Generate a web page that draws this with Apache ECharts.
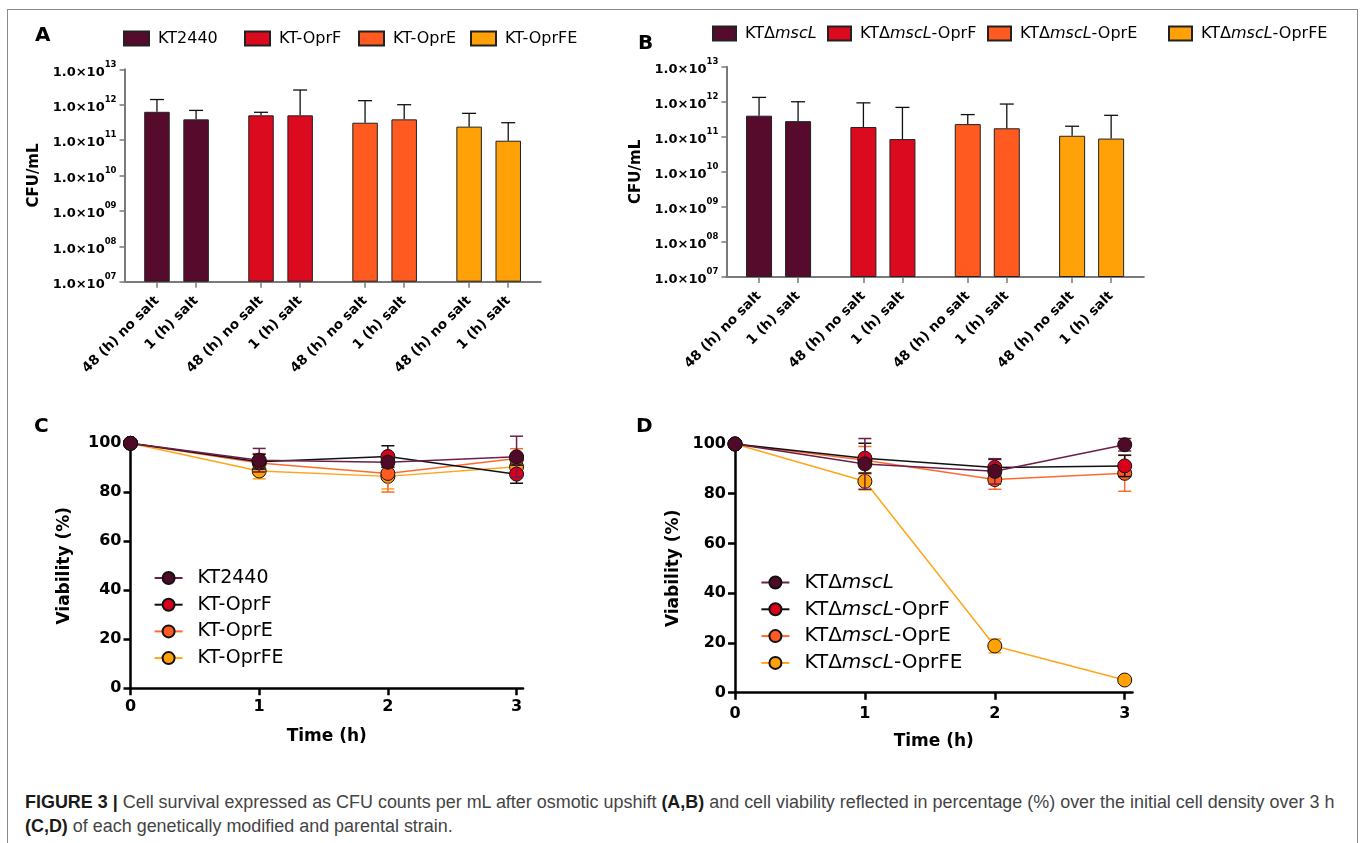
<!DOCTYPE html>
<html>
<head>
<meta charset="utf-8">
<title>Figure 3</title>
<script src="https://cdn.jsdelivr.net/npm/echarts@6.0.0/dist/echarts.min.js"></script>
<style>
  body { margin: 0; background: #fff; }
  #page { position: relative; width: 1360px; height: 843px; overflow: hidden; background: #fff; }
  #frame { position: absolute; left: 7px; top: 9px; width: 1349px; height: 900px; border: 1px solid #8a8a8a; }
  .chart { position: absolute; }
  #caption { position: absolute; left: 25px; top: 790px; font-family: "Liberation Sans", Arial, sans-serif;
             font-size: 15px; line-height: 24px; color: #444; white-space: nowrap; }
  #caption b { color: #1a1a1a; }
</style>
</head>
<body>
<div id="page">
  <div id="frame"></div>
  <div id="cfuA" class="chart" style="left:0;top:0;width:620px;height:400px"></div>
  <div id="cfuB" class="chart" style="left:620px;top:0;width:740px;height:400px"></div>
  <div id="viabC" class="chart" style="left:0;top:400px;width:620px;height:380px"></div>
  <div id="viabD" class="chart" style="left:620px;top:400px;width:740px;height:380px"></div>
  <div id="caption"><span id="capLine1"><b>FIGURE 3 |</b> Cell survival expressed as CFU counts per mL after osmotic upshift <b>(A,B)</b> and cell viability reflected in percentage (%) over the initial cell density over 3 h</span><br><b>(C,D)</b> of each genetically modified and parental strain.</div>
</div>

<script>
// ---------------- data ----------------
const strainsA = ['KT2440', 'KT-OprF', 'KT-OprE', 'KT-OprFE'];
const strainsB = ['KTΔmscL', 'KTΔmscL-OprF', 'KTΔmscL-OprE', 'KTΔmscL-OprFE'];
const conditions = ['48 (h) no salt', '1 (h) salt'];

// CFU/mL per strain: [48 h no salt, 1 h salt]
const cfuA    = [[6.3e11, 3.85e11], [5.0e11, 5.0e11], [3.1e11, 3.85e11], [2.4e11, 9.6e10]];
const cfuTopA = [[1.4e12, 6.9e11],  [6.1e11, 2.6e12], [1.3e12, 1.0e12],  [5.7e11, 3.1e11]];
const cfuB    = [[4.0e11, 2.8e11],  [1.9e11, 8.6e10], [2.3e11, 1.75e11], [1.07e11, 8.9e10]];
const cfuTopB = [[1.33e12, 1.0e12], [9.3e11, 6.9e11], [4.3e11, 8.6e11],  [2.0e11, 4.1e11]];

// viability (%) over time
const hours = [0, 1, 2, 3];
const viabC    = [[100, 93.1, 92.3, 94.5], [100, 92.5, 94.6, 87.4], [100, 92.0, 87.7, 93.8], [100, 88.7, 86.5, 90.4]];
const viabCErr = [[0, 4.8, 2.0, 8.4],      [0, 3.0, 4.4, 3.7],      [0, 3.8, 7.6, 4.0],      [0, 3.2, 5.1, 2.0]];
const viabD    = [[100, 92.0, 89.0, 99.7], [100, 94.3, 90.6, 91.2], [100, 93.5, 85.7, 88.2], [100, 85.0, 18.8, 5.1]];
const viabDErr = [[0, 10.2, 5.1, 2.5],     [0, 6.0, 3.2, 4.3],      [0, 5.5, 3.9, 7.2],      [0, 3.5, 2.8, 1.0]];

// ---------------- styles ----------------
const FONT = 'DejaVu Sans';
const barColors    = ['#560b2d', '#db0a1e', '#ff5b21', '#ffa107'];
const markerColors = ['#4f0a28', '#d9001b', '#ff5b21', '#ffa107'];
const lineColors   = ['#6b1f4a', '#111111', '#ff6a2e', '#ffa51a'];

// italic gene name in the ΔmscL labels
const italicName = n => n.replace('mscL', '{i|mscL}');

function drawCfu(id, strains, values, tops, lay) {
  const chart = echarts.init(document.getElementById(id));
  // bar centre: group middle +- half the pair spacing
  const xPos = (g, i) => g + 0.5 + (i - 0.5) * lay.pair;
  const tickVals = [];
  const tickText = {};
  strains.forEach((s, g) => conditions.forEach((c, i) => {
    const x = xPos(g, i);
    tickVals.push(x);
    tickText[x.toFixed(4)] = c;
  }));

  const series = strains.map((s, g) => ({
    name: s,
    type: 'bar',
    barWidth: lay.barWidth,
    barGap: '-100%',
    clip: true,
    itemStyle: { color: barColors[g], borderColor: '#222', borderWidth: 1 },
    data: values[g].map((v, i) => [xPos(g, i), v])
  }));
  // upper error bars
  series.push({
    type: 'custom',
    z: 5,
    silent: true,
    data: strains.flatMap((s, g) => values[g].map((v, i) => [xPos(g, i), v, tops[g][i]])),
    renderItem: (params, api) => {
      const p0 = api.coord([api.value(0), api.value(1)]);
      const p1 = api.coord([api.value(0), api.value(2)]);
      const w = lay.cap / 2;
      const st = { stroke: '#111', lineWidth: 1.3 };
      return {
        type: 'group',
        children: [
          { type: 'line', shape: { x1: p0[0], y1: p0[1], x2: p1[0], y2: p1[1] }, style: st },
          { type: 'line', shape: { x1: p1[0] - w, y1: p1[1], x2: p1[0] + w, y2: p1[1] }, style: st }
        ]
      };
    }
  });

  const legendText = { fontSize: 16, fontFamily: FONT, color: '#000', padding: [0, 0, 0, 4],
                       rich: { i: { fontSize: 16, fontFamily: FONT, fontStyle: 'italic', color: '#000' } } };

  chart.setOption({
    animation: false,
    textStyle: { fontFamily: FONT },
    graphic: [{ type: 'text', left: lay.letter[0], top: lay.letter[1],
                style: { text: lay.letterText, fontSize: 20, fontWeight: 'bold', fontFamily: FONT, fill: '#000' } }],
    legend: strains.map((s, g) => ({
      data: [s],
      left: lay.legendLeft[g],
      top: lay.legendTop,
      padding: 0,
      icon: 'rect',
      itemWidth: lay.legendIcon,
      itemHeight: 14,
      selectedMode: false,
      formatter: italicName,
      textStyle: legendText
    })),
    grid: { left: lay.grid[0], top: lay.grid[1], width: lay.grid[2], height: lay.grid[3], outerBoundsMode: 'none' },
    xAxis: {
      type: 'value',
      min: 0,
      max: strains.length,
      splitLine: { show: false },
      axisLine: { show: true, onZero: false, lineStyle: { color: '#7a7a7a', width: 2 } },
      axisTick: { show: true, customValues: tickVals, length: 6, lineStyle: { color: '#7a7a7a', width: 1.5 } },
      axisLabel: {
        customValues: tickVals,
        rotate: 45,
        margin: 17,
        fontSize: 13.5,
        fontWeight: 'bold',
        fontFamily: FONT,
        color: '#000',
        formatter: v => tickText[Number(v).toFixed(4)] || ''
      }
    },
    yAxis: {
      type: 'log',
      logBase: 10,
      min: 1e7,
      max: 1e13,
      startValue: 1e7,
      splitLine: { show: false },
      minorTick: { show: false },
      axisLine: { show: true, lineStyle: { color: '#7a7a7a', width: 2 } },
      axisTick: { show: true, length: 5, lineStyle: { color: '#7a7a7a', width: 1.5 } },
      axisLabel: {
        margin: 8,
        formatter: v => {
          const e = Math.round(Math.log10(v));
          return '{m|1.0×10}{e|' + String(e).padStart(2, '0') + '}';
        },
        rich: {
          m: { fontSize: 13, fontWeight: 'bold', fontFamily: FONT, color: '#000', lineHeight: 19, verticalAlign: 'bottom' },
          e: { fontSize: 8.5, fontWeight: 'bold', fontFamily: FONT, color: '#000', lineHeight: 9, verticalAlign: 'top' }
        }
      },
      name: 'CFU/mL',
      nameLocation: 'middle',
      nameGap: lay.nameGap,
      nameTextStyle: { fontSize: 15, fontWeight: 'bold', fontFamily: FONT, color: '#000' }
    },
    series: series
  });
  return chart;
}

function drawViability(id, strains, vals, errs, lay) {
  const chart = echarts.init(document.getElementById(id));
  const series = [];
  strains.forEach((s, k) => {
    // error bars (mean +- sd)
    series.push({
      type: 'custom',
      z: 20 - 2 * k - 1,
      silent: true,
      clip: false,
      data: hours.map((h, j) => [h, vals[k][j], errs[k][j]]),
      renderItem: (params, api) => {
        const x = api.value(0), m = api.value(1), e = api.value(2);
        if (!e) return null;
        const hi = api.coord([x, m + e]);
        const lo = api.coord([x, m - e]);
        const w = lay.cap / 2;
        const st = { stroke: lineColors[k], lineWidth: 1.5 };
        return {
          type: 'group',
          children: [
            { type: 'line', shape: { x1: hi[0], y1: hi[1], x2: lo[0], y2: lo[1] }, style: st },
            { type: 'line', shape: { x1: hi[0] - w, y1: hi[1], x2: hi[0] + w, y2: hi[1] }, style: st },
            { type: 'line', shape: { x1: lo[0] - w, y1: lo[1], x2: lo[0] + w, y2: lo[1] }, style: st }
          ]
        };
      }
    });
    series.push({
      name: s,
      type: 'line',
      z: 20 - 2 * k,
      clip: false,
      symbol: 'circle',
      symbolSize: 14,
      lineStyle: { color: lineColors[k], width: 1.5 },
      itemStyle: { color: markerColors[k], borderColor: '#111', borderWidth: 1 },
      emphasis: { disabled: true },
      data: hours.map((h, j) => [h, vals[k][j]])
    });
  });

  const axisFont = { fontSize: 16, fontWeight: 'bold', fontFamily: FONT, color: '#000' };
  const nameFont = { fontSize: 17, fontWeight: 'bold', fontFamily: FONT, color: '#000' };
  const axisLine = { show: true, onZero: false, lineStyle: { color: '#000', width: 2.5 } };
  const axisTick = { show: true, length: 7, lineStyle: { color: '#000', width: 2.5 } };

  chart.setOption({
    animation: false,
    textStyle: { fontFamily: FONT },
    graphic: [{ type: 'text', left: lay.letter[0], top: lay.letter[1],
                style: { text: lay.letterText, fontSize: 20, fontWeight: 'bold', fontFamily: FONT, fill: '#000' } }],
    legend: {
      data: strains,
      orient: 'vertical',
      left: lay.legendLeft,
      top: lay.legendTop,
      padding: 0,
      itemGap: lay.legendGap,
      itemWidth: 28,
      itemHeight: 15,
      selectedMode: false,
      formatter: italicName,
      textStyle: { fontSize: lay.legendFont, fontFamily: FONT, color: '#000', padding: [0, 0, 0, 10],
                   rich: { i: { fontSize: lay.legendFont, fontFamily: FONT, fontStyle: 'italic', color: '#000' } } }
    },
    grid: { left: lay.grid[0], top: lay.grid[1], width: lay.grid[2], height: lay.grid[3], outerBoundsMode: 'none' },
    xAxis: {
      type: 'value',
      min: 0,
      max: lay.xMax,
      splitLine: { show: false },
      axisLine: axisLine,
      axisTick: Object.assign({ customValues: hours }, axisTick),
      axisLabel: Object.assign({ customValues: hours, margin: lay.xLabelMargin }, axisFont),
      name: 'Time (h)',
      nameLocation: 'middle',
      nameGap: lay.xNameGap,
      nameTextStyle: nameFont
    },
    yAxis: {
      type: 'value',
      min: 0,
      max: 100,
      interval: 20,
      splitLine: { show: false },
      axisLine: axisLine,
      axisTick: axisTick,
      axisLabel: Object.assign({ margin: 9 }, axisFont),
      name: 'Viability (%)',
      nameLocation: 'middle',
      nameGap: lay.yNameGap,
      nameTextStyle: nameFont
    },
    series: series
  });
  return chart;
}

drawCfu('cfuA', strainsA, cfuA, cfuTopA, {
  letterText: 'A', letter: [35, 26],
  grid: [124.5, 69.3, 416.2, 212.4],
  pair: 0.376, barWidth: 25.5, cap: 14,
  legendLeft: [123, 244, 358, 470], legendTop: 30.5, legendIcon: 25,
  nameGap: 76
});
drawCfu('cfuB', strainsB, cfuB, cfuTopB, {
  letterText: 'B', letter: [18, 34],
  grid: [106.4, 66.7, 417.4, 210.3],
  pair: 0.374, barWidth: 26, cap: 14,
  legendLeft: [92, 207, 367, 548], legendTop: 25.5, legendIcon: 23,
  nameGap: 72
});
drawViability('viabC', strainsA, viabC, viabCErr, {
  letterText: 'C', letter: [34, 17],
  grid: [130.5, 43.3, 392.5, 245],
  xMax: 3.05, cap: 13,
  legendLeft: 153.6, legendTop: 168.5, legendGap: 7.7, legendFont: 19,
  xLabelMargin: 11, xNameGap: 40, yNameGap: 57
});
drawViability('viabD', strainsB, viabD, viabDErr, {
  letterText: 'D', letter: [16, 17],
  grid: [115, 44, 397.5, 248.7],
  xMax: 3.06, cap: 13,
  legendLeft: 140.4, legendTop: 172.5, legendGap: 6.8, legendFont: 20,
  xLabelMargin: 13, xNameGap: 40, yNameGap: 52
});

// fit the first caption line to the figure width
const line1 = document.getElementById('capLine1');
const cap = document.getElementById('caption');
cap.style.fontSize = (15 * 1310 / line1.getBoundingClientRect().width) + 'px';
</script>
</body>
</html>
